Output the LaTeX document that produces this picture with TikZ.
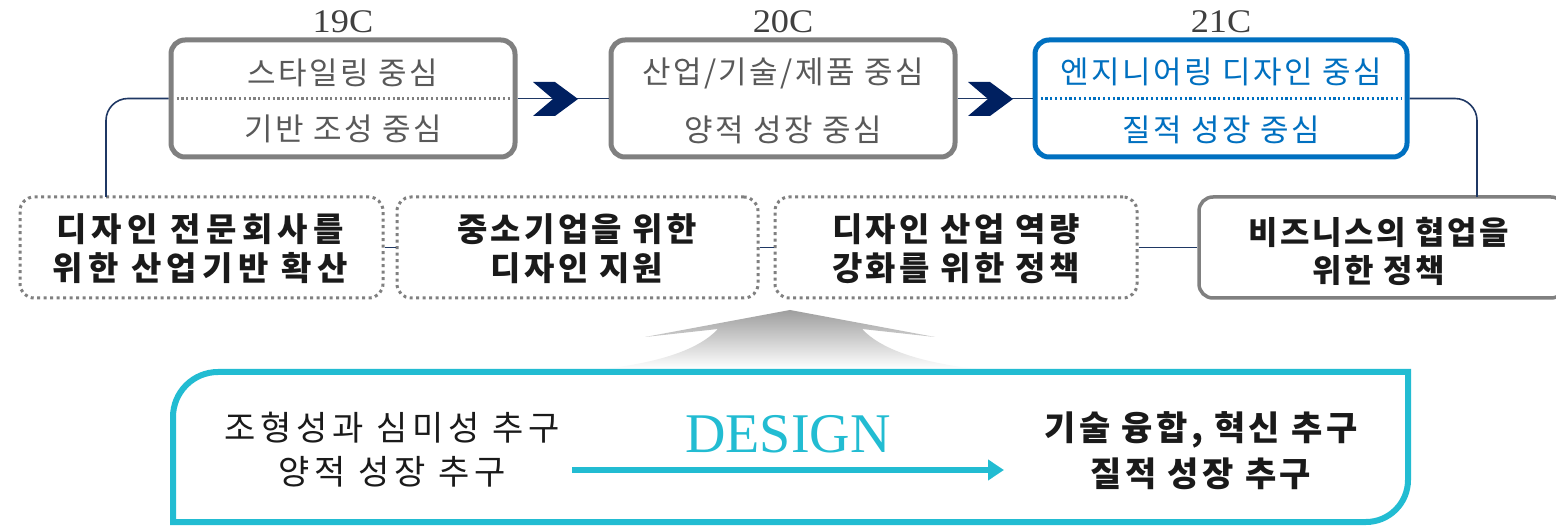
\documentclass[tikz,border=0pt]{standalone}
\usepackage{fontspec}
\setmainfont{Liberation Serif}
\newfontfamily\kr[LetterSpace=8]{Noto Sans CJK KR}
\newfontfamily\krmid[LetterSpace=10]{Noto Sans CJK KR}
\newfontfamily\krwide[LetterSpace=16]{Noto Sans CJK KR}
\newfontfamily\krxwide[LetterSpace=14]{Noto Sans CJK KR}
\usetikzlibrary{arrows.meta}
\definecolor{boxgray}{HTML}{808080}
\definecolor{txtgray}{HTML}{595959}
\definecolor{labgray}{HTML}{404040}
\definecolor{blu}{HTML}{0070C0}
\definecolor{navy}{HTML}{1F3864}
\definecolor{chev}{HTML}{002060}
\definecolor{tealc}{HTML}{22BCD2}
\definecolor{ink}{HTML}{1A1A1A}
\tikzset{
  topbox/.style={draw=boxgray, line width=5pt, rounded corners=14pt, minimum width=344pt, minimum height=117pt, inner sep=0pt},
  bluebox/.style={topbox, draw=blu},
  dotbox/.style={draw=boxgray, line width=3pt, dash pattern=on 3pt off 3.5pt, rounded corners=14pt, minimum height=101pt, inner sep=0pt},
  solidbox/.style={draw=boxgray, line width=3.5pt, rounded corners=14pt, minimum height=101pt, inner sep=0pt},
  toptxt/.style={text=txtgray, font=\kr\fontsize{31pt}{33pt}\selectfont, inner sep=0pt},
  bluetxt/.style={toptxt, text=blu},
  century/.style={text=labgray, font=\fontsize{33pt}{35pt}\selectfont, inner sep=0pt},
  dtxt/.style={text=ink, font=\krmid\bfseries\fontsize{33pt}{35pt}\selectfont, inner sep=0pt},
  dwtxt/.style={text=ink, font=\krwide\bfseries\fontsize{33pt}{35pt}\selectfont, inner sep=0pt},
  d4txt/.style={text=ink, font=\kr\bfseries\fontsize{32pt}{34pt}\selectfont, inner sep=0pt},
  btxt/.style={text=ink, font=\krxwide\fontsize{34pt}{36pt}\selectfont, inner sep=0pt},
  bbtxt/.style={text=ink, font=\krmid\bfseries\fontsize{34pt}{36pt}\selectfont, inner sep=0pt},
  conn/.style={draw=navy, line width=1.6pt},
  divider/.style={line width=2.6pt, dash pattern=on 2.2pt off 2.6pt},
  chevron/.style={fill=chev, draw=none}
}
\begin{document}
\begin{tikzpicture}[x=1pt,y=-1pt]
\useasboundingbox (0,0) rectangle (1556,526);
\fill[white] (0,0) rectangle (1556,526);

\coordinate (c1) at (106,197);
\coordinate (c4) at (1477,197);

% ---- top boxes
\node[topbox] (b1) at (343,98.5) {};
\node[topbox] (b2) at (783,98.5) {};
\node[bluebox, minimum width=372pt] (b3) at (1221,98.5) {};

\draw[divider, draw=boxgray] ([xshift=8pt]b1.west) -- ([xshift=-8pt]b1.east);
\draw[divider, draw=blu] ([xshift=8pt]b3.west) -- ([xshift=-8pt]b3.east);

\node[century] (l19) at (343,22) {\scalebox{1.1}[1]{19C}};
\node[century] (l20) at (783,22) {\scalebox{1.1}[1]{20C}};
\node[century] (l21) at (1221,22) {\scalebox{1.1}[1]{21C}};

\node[toptxt] (t1a) at (343,73) {스타일링 중심};
\node[toptxt] (t1b) at (343,129) {기반 조성 중심};
\node[toptxt] (t2a) at (783,73) {산업/기술/제품 중심};
\node[toptxt] (t2b) at (783,130) {양적 성장 중심};
\node[bluetxt] (t3a) at (1221,72) {엔지니어링 디자인 중심};
\node[bluetxt] (t3b) at (1221,130) {질적 성장 중심};

% ---- lower boxes
\node[dotbox, minimum width=363pt] (d1) at (201.5,247.5) {};
\node[dotbox, minimum width=361pt] (d2) at (577.5,247.5) {};
\node[dotbox, minimum width=362pt] (d3) at (956,247.5) {};
\node[solidbox, minimum width=366pt] (d4) at (1382,247.5) {};

\node[dwtxt] (d1a) at (200,229) {디자인 전문회사를};
\node[dwtxt] (d1b) at (200,268) {위한 산업기반 확산};
\node[dtxt] (d2a) at (577,229) {중소기업을 위한};
\node[dtxt] (d2b) at (577,268) {디자인 지원};
\node[dtxt] (d3a) at (956,229) {디자인 산업 역량};
\node[dtxt] (d3b) at (956,268) {강화를 위한 정책};
\node[d4txt] (d4a) at (1379,232) {비즈니스의 협업을};
\node[d4txt] (d4b) at (1379,271) {위한 정책};

% ---- connectors
\draw[conn, rounded corners=22pt] (b1.west) -| (c1);
\draw[conn, rounded corners=22pt] (b3.east) -| (c4);
\draw[conn] (b1.east) -- (b2.west);
\draw[conn] (b2.east) -- (b3.west);
\draw[conn] (d1.east) -- (d2.west);
\draw[conn] (d2.east) -- (d3.west);
\draw[conn] (d3.east) -- (d4.west);

% chevrons
\fill[chevron] (533,82) -- (555,82) -- (578,99) -- (555,116) -- (533,116) -- (553,99) -- cycle;
\fill[chevron] (968,82) -- (990,82) -- (1013,99) -- (990,116) -- (968,116) -- (988,99) -- cycle;

% ---- gray wedge
\shade[top color=black!38, bottom color=white]
  (790,310) -- (935,337) -- (862,329) .. controls (882,350) and (920,362) .. (975,369)
  -- (605,369) .. controls (660,362) and (698,350) .. (718,329) -- (645,337) -- cycle;

% ---- bottom box
\draw[tealc, line width=6pt]
  (173,522) -- (173,417) arc[start angle=180, end angle=270, radius=45] -- (1408,372)
  -- (1408,480) arc[start angle=0, end angle=90, radius=42] -- cycle;

\node[btxt] (e1a) at (392,428) {조형성과 심미성 추구};
\node[btxt] (e1b) at (392,472) {양적 성장 추구};
\node[text=tealc, font=\fontsize{56pt}{58pt}\selectfont, inner sep=0pt] (dsg) at (788,434) {DESIGN};
\coordinate (as) at (572,470);
\coordinate (ae) at (1004,470);
\draw[tealc, line width=6pt, -{Triangle[length=16pt,width=20pt]}] (as) -- (ae);
\node[bbtxt] (e2a) at (1201,430) {기술 융합, 혁신 추구};
\node[bbtxt] (e2b) at (1201,474) {질적 성장 추구};
\end{tikzpicture}
\end{document}
